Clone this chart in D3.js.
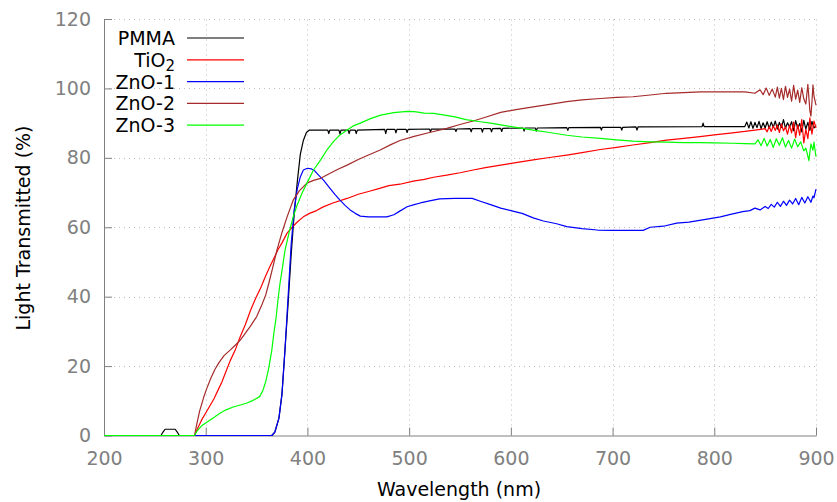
<!DOCTYPE html>
<html>
<head>
<meta charset="utf-8">
<script src="https://cdn.jsdelivr.net/npm/d3@7"></script>
<style>
  body { margin: 0; background: #fff; }
  svg { font-family: "DejaVu Sans", sans-serif; }
</style>
</head>
<body>
<svg width="837" height="502"></svg>
<script>
// [wavelength nm, transmitted %]
var pmma = [
  [200,0],[256,0],[258,1],[260,1.8],[270,1.8],[272,1],[274,0],[365,0],[368,1],[372,5],[375,12],[378,25],
  [381,38],[384,52],[387,64],[390,73],[393,81],[396,85],[399,87.3],[402,88],
  [420,88],[421,87],[422,88],[431,88],[432,86.8],[433,88],[440,88],[441,87],[442,88],[447,88],[448,87],[449,88],
  [476,88.2],[477,87],[478,88.2],[486,88.2],[487,87.2],[488,88.2],[497,88.2],[498,87.3],[499,88.2],
  [520,88.3],[521,87.5],[522,88.3],[545,88.3],[546,87.6],[547,88.3],[560,88.4],[561,87.5],[562,88.4],
  [571,88.4],[572,87.4],[573,88.4],[580,88.4],[581,87.5],[582,88.4],[590,88.5],[591,87.6],[592,88.5],
  [612,88.6],[613,87.7],[614,88.6],[624,88.6],[625,87.7],[626,88.6],[655,88.7],[656,87.9],[657,88.7],
  [688,88.8],[689,88],[690,88.8],[708,88.8],[709,88],[710,88.8],[723,88.9],[724,88],[725,88.9],
  [788,89],[789,90],[790,89],[830,89],[832,90.3],[834,88.6],[836,90.4],[838,88.5],[840,90.2],[842,88.7],
  [844,90.5],[846,88.4],[848,90.1],[850,88.6],[852,90.4],[854,88.5],[856,90.3],[858,88.8],[860,90.6],
  [862,88.3],[864,90.2],[866,88.7],[868,91],[870,88.5],[872,90.1],[874,88.9],[876,90.4],[878,87.8],
  [880,90.7],[882,88.5],[884,89.9],[886,87.5],[888,90.8],[890,88.3],[892,90.2],[894,87.9],[896,90.5],
  [898,88.6],[900,89.3]
];

var tio2 = [
  [200,0],[289,0],[292,2],[296,4.5],[300,6.5],[304,8.5],[308,10.5],[312,13],[316,15.5],[320,18.5],
  [324,21.5],[329,24.6],[334,28.5],[339,32],[344,36],[349,39.5],[354,42.5],[359,46],[363,48.6],[367,51],
  [371,53.5],[375,55.5],[380,58.3],[385,60],[390,61.5],[396,63],[402,64],[409,64.8],[415,65.8],[425,67],
  [439,68.3],[450,69.5],[460,70.3],[471,71.2],[480,72],[491,72.4],[504,73.3],[515,73.8],[524,74.4],
  [537,75],[550,75.7],[563,76.5],[575,77.2],[590,77.9],[605,78.6],[622,79.4],[638,80.1],[655,80.8],
  [670,81.5],[688,82.4],[704,83],[720,83.7],[737,84.4],[753,85.1],[770,85.6],[786,86.1],[800,86.6],
  [818,87.2],[830,87.6],[840,88],[850,88.4],[852,87.5],[854,89],[856,87.6],[858,89.2],[860,87.9],
  [862,89.5],[864,87.3],[866,89.8],[868,87.8],[870,88.9],[872,86.8],[874,89.4],[876,87.2],[878,90.3],
  [880,85.8],[882,89.6],[884,86.5],[886,91],[888,84.3],[890,88.2],[892,85.5],[894,91.5],[896,86.8],
  [898,90.6],[900,88.6]
];

var zno1 = [
  [200,0],[365,0],[368,1],[372,5],[375,12],[378,25],[381,40],[384,55],[387,65],[390,71],[393,74.5],
  [396,76.5],[400,77],[404,76.8],[407,76.3],[410,75.3],[416,73.5],[422,71.3],[427,69.5],[432,67.8],
  [437,66.3],[442,65],[447,64],[452,63.2],[460,63],[478,63],[485,63.6],[490,64.5],[498,65.9],[505,66.5],
  [511,67],[520,67.6],[530,68.2],[545,68.3],[562,68.3],[570,67.5],[580,66.5],[590,65.5],[600,64.8],
  [611,64],[622,62.7],[632,61.8],[645,61],[655,60.2],[670,59.6],[685,59.2],[700,59.1],[730,59.1],
  [737,60],[750,60.3],[763,61.2],[775,61.5],[790,62.2],[806,63],[817,63.8],[828,64.5],[835,64.8],
  [840,65.5],[845,65],[850,66],[853,65.4],[856,66.6],[859,65.8],[862,67.2],[865,66],[868,67.5],
  [871,66.3],[874,67.8],[877,66.7],[880,68.3],[883,66.5],[886,68.6],[889,67],[892,68.8],[895,67.2],
  [897,69],[898,68.5],[900,71]
];

var zno2 = [
  [200,0],[289,0],[291,3],[294,7],[298,11],[301,13.5],[305,16.5],[309,19],[313,21],[318,23],[324,24.6],
  [329,26],[334,27.5],[339,29.5],[344,31.5],[350,34.2],[355,37.5],[359,40.5],[362,43.8],[366,48.5],
  [370,53.4],[375,58.5],[380,63],[386,67.8],[392,70.5],[399.5,72.7],[406,73.5],[413,74.1],[420,75.2],
  [430,76.7],[439,77.9],[450,79.5],[460,80.8],[471,82.2],[482,83.8],[491,85],[504,86.1],[520,87.3],
  [537,88.5],[550,89.6],[563,90.6],[575,91.7],[590,93.1],[605,93.9],[622,94.7],[638,95.4],[655,96.2],
  [670,96.7],[688,97.1],[704,97.4],[720,97.6],[737,98.1],[753,98.6],[770,98.8],[786,99],[800,99],
  [818,99],[830,99],[840,98.6],[845,99.6],[848,98.2],[851,100.1],[854,98],[857,99.8],[860,97.5],
  [862,100.4],[864,97.2],[866,100],[868,96.8],[870,100.6],[872,97.4],[874,99.8],[876,96.3],[878,100.9],
  [880,96.9],[882,99.5],[884,96],[886,100.2],[888,97],[890,95.5],[892,101.2],[894,93.5],[895,92],
  [896,96],[897,101],[898,97.8],[900,95.2]
];

var zno3 = [
  [200,0],[289,0],[292,1.5],[296,2.8],[301,3.8],[307,5],[314,6.4],[320,7.4],[327,8.2],[334,8.8],
  [340,9.3],[347,10.2],[353,11.2],[356,12.8],[359,15.5],[362,19.5],[365,24.6],[367,29.5],[369.3,34.2],
  [371,39],[373,43.8],[375.5,48.5],[378,53.4],[382,58.5],[386,63],[390,66.5],[395,70],[400,73],
  [406,76.5],[413,79.4],[419,82.2],[426,84.8],[432,86.6],[439,88],[445,89.2],[452,90],[462,91.3],
  [472,92.3],[485,93],[498,93.4],[505,93.3],[515,92.9],[524,92.8],[535,92.3],[545,91.8],[556,91],
  [570,90.4],[580,90],[590,89.5],[605,88.8],[622,88],[638,87.3],[655,86.5],[670,86],[688,85.6],
  [704,85.2],[720,84.8],[737,84.6],[753,84.5],[770,84.4],[786,84.4],[800,84.3],[818,84.2],[830,84.1],
  [840,84],[843,85.2],[846,83.5],[849,85.6],[852,83.4],[855,85.3],[858,83],[861,85.5],[864,83.6],
  [867,85.8],[870,83.1],[873,85],[876,82.8],[879,85.4],[882,83.2],[885,84.6],[888,82],[890,82.8],
  [892,80.5],[893,79.2],[895,84],[897,82.2],[898,84.5],[900,80.3]
];

var seriesNames = ["PMMA", "TiO2", "ZnO-1", "ZnO-2", "ZnO-3"];
var seriesData = [pmma, tio2, zno1, zno2, zno3];
var seriesColors = ["#000000", "#ff0000", "#0000ff", "#a52a2a", "#00ff00"];
var xTicks = [200, 300, 400, 500, 600, 700, 800, 900];
var yTicks = [0, 20, 40, 60, 80, 100, 120];

var svg = d3.select("svg");
var plotLeft = 104, plotTop = 19, plotRight = 816, plotBottom = 435.5;

var x = d3.scaleLinear().domain([200, 900]).range([plotLeft, plotRight]);
var y = d3.scaleLinear().domain([0, 120]).range([plotBottom, plotTop]);

// dotted grid
var grid = svg.append("g").attr("stroke", "#bbbbbb").attr("stroke-dasharray", "1,4").attr("stroke-width", 1);
grid.selectAll("line.gx").data(xTicks.slice(1)).enter().append("line")
    .attr("x1", function(d) { return Math.round(x(d)) + 0.5; })
    .attr("x2", function(d) { return Math.round(x(d)) + 0.5; })
    .attr("y1", plotBottom).attr("y2", plotTop);
grid.selectAll("line.gy").data(yTicks.slice(1)).enter().append("line")
    .attr("x1", plotLeft).attr("x2", plotRight)
    .attr("y1", function(d) { return Math.round(y(d)) + 0.5; })
    .attr("y2", function(d) { return Math.round(y(d)) + 0.5; });

var xAxis = svg.append("g")
    .attr("transform", "translate(0," + plotBottom + ")")
    .call(d3.axisBottom(x).tickValues(xTicks).tickSize(-8).tickSizeOuter(0).tickPadding(16));
var yAxis = svg.append("g")
    .attr("transform", "translate(" + plotLeft + ",0)")
    .call(d3.axisLeft(y).tickValues(yTicks).tickSize(-8).tickSizeOuter(0).tickPadding(13));

[xAxis, yAxis].forEach(function(a) {
    a.selectAll("path, line").attr("stroke", "#808080");
    a.selectAll("text").attr("fill", "#808080").style("font-size", "19px")
        .style("font-family", "DejaVu Sans, sans-serif");
});

// curves
var line = d3.line()
    .x(function(d) { return x(d[0]); })
    .y(function(d) { return y(d[1]); });

svg.append("g").selectAll("path").data(seriesData).enter().append("path")
    .attr("d", line)
    .attr("fill", "none")
    .attr("stroke", function(d, i) { return seriesColors[i]; })
    .attr("stroke-width", 1.2)
    .attr("stroke-linejoin", "round");

// legend
var legend = svg.append("g");
seriesNames.forEach(function(name, i) {
    var ly = 38 + i * 21.8;
    var t = legend.append("text")
        .attr("x", 175).attr("y", ly + 7)
        .attr("text-anchor", "end")
        .style("font-size", "19px")
        .attr("fill", "#000");
    if (name === "TiO2") {
        t.append("tspan").text("TiO");
        t.append("tspan").attr("dy", 4).style("font-size", "15px").text("2");
    } else {
        t.text(name);
    }
    legend.append("line")
        .attr("x1", 187).attr("x2", 244)
        .attr("y1", ly).attr("y2", ly)
        .attr("stroke", seriesColors[i]).attr("stroke-width", 1.2);
});

// axis titles
svg.append("text")
    .attr("x", 459).attr("y", 496)
    .attr("text-anchor", "middle")
    .style("font-size", "19px")
    .text("Wavelength (nm)");

svg.append("text")
    .attr("transform", "translate(30,228) rotate(-90)")
    .attr("text-anchor", "middle")
    .style("font-size", "19px")
    .text("Light Transmitted (%)");
</script>
</body>
</html>
